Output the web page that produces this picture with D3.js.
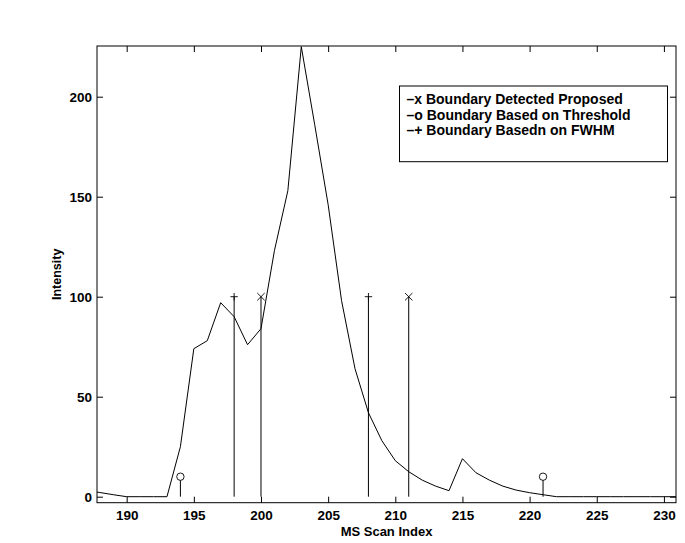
<!DOCTYPE html>
<html>
<head>
<meta charset="utf-8">
<script src="https://cdn.jsdelivr.net/npm/d3@7"></script>
<style>
  body { margin: 0; background: #fff; }
  text { font-family: "Liberation Sans", Arial, Helvetica, sans-serif; font-weight: bold; fill: #000; }
</style>
</head>
<body>
<div id="chart"></div>
<script>
var svgWidth = 685;
var svgHeight = 543;

var margin = { top: 46, right: 9, bottom: 40.3, left: 97 };
var width = svgWidth - margin.left - margin.right;
var height = svgHeight - margin.top - margin.bottom;

// scan index / intensity
var scanIndex = [187, 188, 189, 190, 191, 192, 193, 194, 195, 196, 197, 198, 199, 200,
  201, 202, 203, 204, 205, 206, 207, 208, 209, 210, 211, 212, 213, 214, 215, 216,
  217, 218, 219, 220, 221, 222, 223, 224, 225, 226, 227, 228, 229, 230, 231];
var intensity = [3.1, 2.1, 1, 0, 0, 0, 0, 25, 74, 78, 97, 90, 76, 84,
  123, 153, 225, 186, 146, 98, 64, 42, 28, 18, 12.5, 8.3, 5.3, 3, 19, 12,
  8.3, 5.3, 3.3, 2, 1, 0, 0, 0, 0, 0, 0, 0, 0, 0, 0];

// boundaries
var proposedX = [200, 211];
var proposedY = [100, 100];
var thresholdX = [194, 221];
var thresholdY = [10, 10];
var fwhmX = [198, 208];
var fwhmY = [100, 100];

var xTicks = [190, 195, 200, 205, 210, 215, 220, 225, 230];
var yTicks = [0, 50, 100, 150, 200];

var legendLabels = [
  "\u2013x Boundary Detected Proposed",
  "\u2013o Boundary Based on Threshold",
  "\u2013+ Boundary Basedn on FWHM"
];

var svg = d3.select("#chart").append("svg")
  .attr("width", svgWidth)
  .attr("height", svgHeight);

var chartGroup = svg.append("g")
  .attr("transform", `translate(${margin.left}, ${margin.top})`);

var x = d3.scaleLinear().domain([187.79, 230.9]).range([0, width]);
var y = d3.scaleLinear().domain([-3, 225.35]).range([height, 0]);

svg.append("defs").append("clipPath").attr("id", "clip")
  .append("rect").attr("width", width).attr("height", height);

// axes (ticks inward, mirrored)
var tickLen = 6;
chartGroup.append("g")
  .attr("transform", `translate(0, ${height})`)
  .call(d3.axisBottom(x).tickValues(xTicks).tickSizeInner(-tickLen).tickSizeOuter(0).tickPadding(8))
  .call(g => g.select(".domain").remove());
chartGroup.append("g")
  .call(d3.axisTop(x).tickValues(xTicks).tickSizeInner(-tickLen).tickSizeOuter(0).tickFormat(""))
  .call(g => g.select(".domain").remove());
chartGroup.append("g")
  .call(d3.axisLeft(y).tickValues(yTicks).tickSizeInner(-tickLen).tickSizeOuter(0).tickPadding(5))
  .call(g => g.select(".domain").remove());
chartGroup.append("g")
  .attr("transform", `translate(${width}, 0)`)
  .call(d3.axisRight(y).tickValues(yTicks).tickSizeInner(-tickLen).tickSizeOuter(0).tickFormat(""))
  .call(g => g.select(".domain").remove());

chartGroup.selectAll(".tick line").attr("stroke", "#000");
chartGroup.selectAll(".tick text")
  .style("font-size", "13.5px")
  .style("font-family", "'Liberation Sans', Arial, sans-serif")
  .style("font-weight", "bold");

chartGroup.append("rect")
  .attr("width", width)
  .attr("height", height)
  .attr("fill", "none")
  .attr("stroke", "#000")
  .attr("stroke-width", 1);

// data line
var line = d3.line()
  .x((d, i) => x(scanIndex[i]))
  .y(d => y(d));

chartGroup.append("path")
  .datum(intensity)
  .attr("clip-path", "url(#clip)")
  .attr("d", line)
  .attr("fill", "none")
  .attr("stroke", "#000")
  .attr("stroke-width", 1);

// stems
function drawStems(xs, ys, marker) {
  var g = chartGroup.append("g");
  xs.forEach(function(xv, i) {
    var cx = x(xv), cy = y(ys[i]);
    var top = marker === "o" ? cy + 3.7 : cy;
    g.append("line")
      .attr("x1", cx).attr("x2", cx)
      .attr("y1", y(0)).attr("y2", top)
      .attr("stroke", "#000").attr("stroke-width", 1);
    var s = 3.7;
    if (marker === "o") {
      g.append("circle").attr("cx", cx).attr("cy", cy).attr("r", s)
        .attr("fill", "none").attr("stroke", "#000").attr("stroke-width", 0.9);
    } else if (marker === "x") {
      g.append("path")
        .attr("d", `M${cx - s},${cy - s}L${cx + s},${cy + s}M${cx - s},${cy + s}L${cx + s},${cy - s}`)
        .attr("stroke", "#000").attr("stroke-width", 0.9);
    } else {
      g.append("path")
        .attr("d", `M${cx - s},${cy}L${cx + s},${cy}M${cx},${cy - s}L${cx},${cy + s}`)
        .attr("stroke", "#000").attr("stroke-width", 0.9);
    }
  });
}
drawStems(proposedX, proposedY, "x");
drawStems(thresholdX, thresholdY, "o");
drawStems(fwhmX, fwhmY, "+");

// legend
var legend = svg.append("g").attr("transform", "translate(399.5, 86)");
legend.append("rect")
  .attr("width", 268)
  .attr("height", 75.7)
  .attr("fill", "#fff")
  .attr("stroke", "#000")
  .attr("stroke-width", 1);
legend.selectAll("text.leg")
  .data(legendLabels)
  .enter()
  .append("text")
  .attr("class", "leg")
  .attr("x", 7)
  .attr("y", (d, i) => 17.8 + i * 15.8)
  .style("font-size", "14px")
  .text(d => d);

// axis labels
svg.append("text")
  .attr("x", margin.left + width / 2)
  .attr("y", 536)
  .attr("text-anchor", "middle")
  .style("font-size", "13px")
  .text("MS Scan Index");

svg.append("text")
  .attr("transform", `translate(61, ${margin.top + height / 2}) rotate(-90)`)
  .attr("text-anchor", "middle")
  .style("font-size", "12.5px")
  .text("Intensity");
</script>
</body>
</html>
